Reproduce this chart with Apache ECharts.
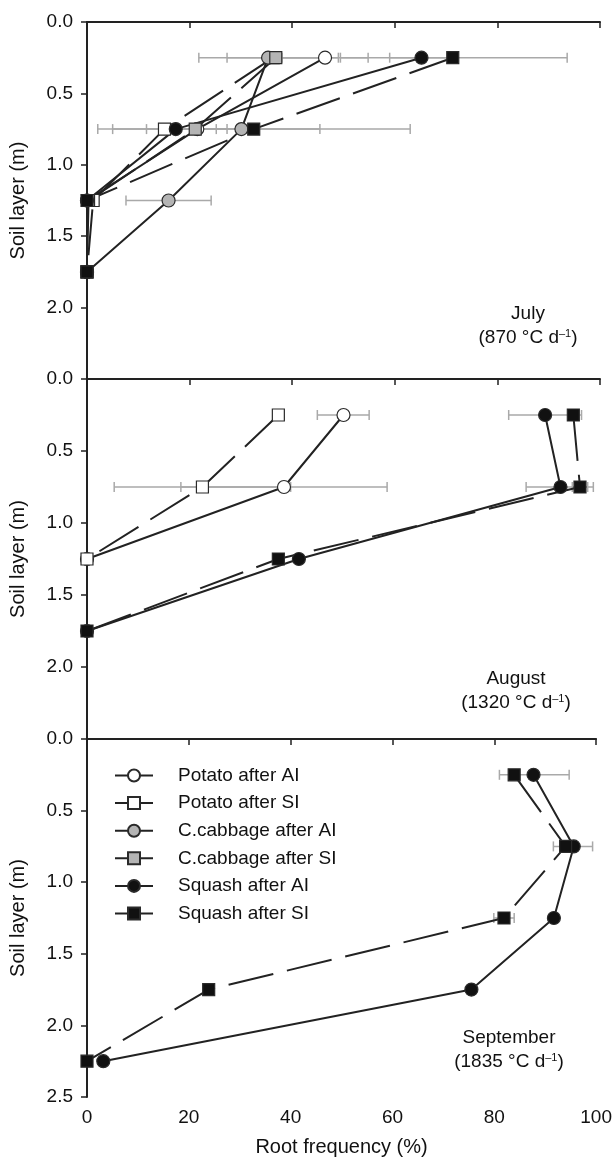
<!DOCTYPE html>
<html>
<head>
<meta charset="utf-8">
<script src="https://cdn.jsdelivr.net/npm/echarts@6/dist/echarts.min.js"></script>
<style>
html, body { margin: 0; padding: 0; background: #fff; }
#chart { width: 615px; height: 1160px; }
</style>
</head>
<body>
<div id="chart"></div>
<script>
var seriesNames = ['Potato after AI', 'Potato after SI', 'C.cabbage after AI', 'C.cabbage after SI', 'Squash after AI', 'Squash after SI'];
var monthNames = ['July', 'August', 'September'];
var thermalTime = ['870', '1320', '1835'];

// July (870 °C d-1)
var julyDepth = [0.25, 0.75, 1.25, 1.75];
var julyPotatoAI = [46.4, 21.5, 0, 0];
var julyPotatoSI = [36.3, 15.1, 1.2, 0];
var julyCabbageAI = [35.3, 30.1, 15.9, 0];
var julyCabbageSI = [36.8, 21.1, 0.3, 0];
var julySquashAI = [65.2, 17.3, 0, 0];
var julySquashSI = [71.3, 32.5, 0, 0];
var julyErrLow = [38.0, 21.8, 27.3, 59.0, 49.4, 15.7, 5.0, 14.8, 11.6, 2.1, 7.6];
var julyErrHigh = [54.8, 49.0, 46.3, 71.6, 93.6, 27.3, 25.2, 45.4, 30.6, 63.0, 24.2];
var julyErrDepth = [0.25, 0.25, 0.25, 0.25, 0.25, 0.75, 0.75, 0.75, 0.75, 0.75, 1.25];

// August (1320 °C d-1)
var augDepth = [0.25, 0.75, 1.25, 1.75];
var augPotatoAI = [50.0, 38.4, 0];
var augPotatoSI = [37.3, 22.5, 0];
var augSquashAI = [89.3, 92.3, 41.3, 0];
var augSquashSI = [94.8, 96.1, 37.3, 0];
var augErrLow = [44.9, 82.2, 18.3, 5.3, 85.6, 94.6];
var augErrHigh = [55.0, 96.4, 58.5, 39.7, 98.7, 97.6];
var augErrDepth = [0.25, 0.25, 0.75, 0.75, 0.75, 0.75];

// September (1835 °C d-1)
var sepDepth = [0.25, 0.75, 1.25, 1.75, 2.25];
var sepSquashAI = [87.7, 95.6, 91.7, 75.5, 3.2];
var sepSquashSI = [83.9, 94.0, 81.9, 23.9, 0];
var sepErrLow = [81.0, 91.6, 79.9];
var sepErrHigh = [94.7, 99.3, 83.9];
var sepErrDepth = [0.25, 0.75, 1.25];

var FONT = 'Liberation Sans, Arial, sans-serif';
var symbols = ['circle', 'rect', 'circle', 'rect', 'circle', 'rect'];
var fills = ['#ffffff', '#ffffff', '#b4b4b4', '#b4b4b4', '#111111', '#111111'];
var dashed = [false, true, false, true, false, true];

var chart = echarts.init(document.getElementById('chart'));

var gridTops = [22, 379, 739];
var gridHeights = [357, 360, 358];

function lineSeries(panel, k, values, depths) {
    return {
        name: seriesNames[k],
        type: 'line',
        xAxisIndex: panel,
        yAxisIndex: panel,
        z: 3,
        symbol: symbols[k],
        symbolSize: symbols[k] == 'circle' ? 13 : 12,
        itemStyle: {
            color: fills[k],
            borderColor: '#2a2a2a',
            borderWidth: 1.2
        },
        lineStyle: {
            color: '#222',
            width: 2,
            type: dashed[k] ? [46, 14] : 'solid'
        },
        emphasis: { disabled: true },
        animation: false,
        data: values.map(function (v, i) { return [v, depths[i]]; })
    };
}

function errSeries(panel, low, high, depth) {
    return {
        type: 'custom',
        xAxisIndex: panel,
        yAxisIndex: panel,
        z: 1,
        silent: true,
        animation: false,
        encode: { x: [0, 1], y: 2 },
        data: low.map(function (l, i) { return [l, high[i], depth[i]]; }),
        renderItem: function (params, api) {
            var a = api.coord([api.value(0), api.value(2)]);
            var b = api.coord([api.value(1), api.value(2)]);
            var h = 5;
            var st = { stroke: '#a9a9a9', lineWidth: 1.5 };
            return {
                type: 'group',
                children: [
                    { type: 'line', shape: { x1: a[0], y1: a[1], x2: b[0], y2: b[1] }, style: st },
                    { type: 'line', shape: { x1: a[0], y1: a[1] - h, x2: a[0], y2: a[1] + h }, style: st },
                    { type: 'line', shape: { x1: b[0], y1: b[1] - h, x2: b[0], y2: b[1] + h }, style: st }
                ]
            };
        }
    };
}

var grids = [], xAxes = [], yAxes = [];
for (var p = 0; p < 3; p++) {
    var last = p == 2;
    grids.push({ left: 87, right: 15, top: gridTops[p], height: gridHeights[p] });
    xAxes.push({
        type: 'value',
        gridIndex: p,
        min: 0,
        max: 100,
        interval: 20,
        name: last ? 'Root frequency (%)' : '',
        nameLocation: 'middle',
        nameGap: 40,
        nameTextStyle: { fontFamily: FONT, fontSize: 20, color: '#111' },
        axisLine: { lineStyle: { color: '#222', width: 2 } },
        axisTick: { length: 6, lineStyle: { color: '#222', width: 1.5 } },
        axisLabel: { show: last, margin: 11, fontFamily: FONT, fontSize: 19, color: '#111' },
        splitLine: { show: false }
    });
    yAxes.push({
        type: 'value',
        gridIndex: p,
        inverse: true,
        min: 0,
        max: 2.5,
        interval: 0.5,
        name: 'Soil layer (m)',
        nameLocation: 'middle',
        nameGap: 59,
        nameTextStyle: { fontFamily: FONT, fontSize: 20, color: '#111' },
        axisLine: { show: true, lineStyle: { color: '#222', width: 2 } },
        axisTick: { show: true, length: 6, lineStyle: { color: '#222', width: 1.5 } },
        axisLabel: {
            margin: 14,
            showMaxLabel: last,
            fontFamily: FONT,
            fontSize: 19,
            color: '#111',
            formatter: function (v) { return v.toFixed(1); }
        },
        splitLine: { show: false }
    });
}

var series = [
    errSeries(0, julyErrLow, julyErrHigh, julyErrDepth),
    lineSeries(0, 0, julyPotatoAI, julyDepth),
    lineSeries(0, 1, julyPotatoSI, julyDepth),
    lineSeries(0, 2, julyCabbageAI, julyDepth),
    lineSeries(0, 3, julyCabbageSI, julyDepth),
    lineSeries(0, 4, julySquashAI, julyDepth),
    lineSeries(0, 5, julySquashSI, julyDepth),
    errSeries(1, augErrLow, augErrHigh, augErrDepth),
    lineSeries(1, 0, augPotatoAI, augDepth),
    lineSeries(1, 1, augPotatoSI, augDepth),
    lineSeries(1, 4, augSquashAI, augDepth),
    lineSeries(1, 5, augSquashSI, augDepth),
    errSeries(2, sepErrLow, sepErrHigh, sepErrDepth),
    lineSeries(2, 4, sepSquashAI, sepDepth),
    lineSeries(2, 5, sepSquashSI, sepDepth)
];

// month labels in the lower right of each panel
var labelPos = [[528, 326], [516, 691], [509, 1050]];
var graphics = monthNames.map(function (m, i) {
    return {
        type: 'text',
        x: labelPos[i][0],
        y: labelPos[i][1],
        style: {
            text: '{a|' + m + '}\n{a|(' + thermalTime[i] + ' °C d}{s|–1}{a|)}',
            align: 'center',
            verticalAlign: 'middle',
            textAlign: 'center',
            textVerticalAlign: 'middle',
            fill: '#111',
            rich: {
                a: { fontFamily: FONT, fontSize: 19, lineHeight: 24, color: '#111' },
                s: { fontFamily: FONT, fontSize: 11, lineHeight: 24, verticalAlign: 'top', color: '#111', padding: [2, 0, 0, 0] }
            }
        }
    };
});

var option = {
    animation: false,
    grid: grids,
    xAxis: xAxes,
    yAxis: yAxes,
    legend: {
        data: seriesNames,
        orient: 'vertical',
        left: 114,
        top: 766,
        padding: 0,
        itemWidth: 38,
        itemHeight: 15,
        itemGap: 8.6,
        selectedMode: false,
        lineStyle: { type: 'solid', width: 2, color: '#222' },
        textStyle: { fontFamily: FONT, fontSize: 19, color: '#111', padding: [0, 0, 0, 20] }
    },
    graphic: graphics,
    series: series
};

chart.setOption(option);
</script>
</body>
</html>
